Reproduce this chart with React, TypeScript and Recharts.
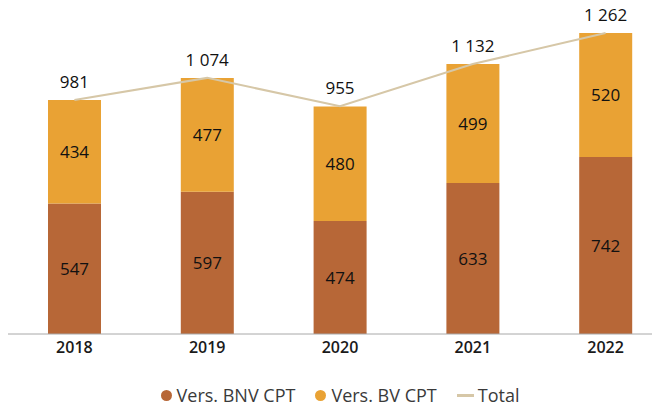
import React from 'react';
import { ComposedChart, Bar, Line, XAxis, YAxis, LabelList, Legend } from 'recharts';

const categories = ['2018', '2019', '2020', '2021', '2022'];
const bnvValues = [547, 597, 474, 633, 742];
const bvValues = [434, 477, 480, 499, 520];
const totalValues = [981, 1074, 955, 1132, 1262];
const seriesNames = ['Vers. BNV CPT', 'Vers. BV CPT', 'Total'];

const data = categories.map((year, i) => ({
  year,
  bnv: bnvValues[i],
  bv: bvValues[i],
  total: totalValues[i],
}));

const FONT = '"Open Sans", sans-serif';
const BROWN = '#b76737';
const ORANGE = '#e9a234';
const TAN = '#d6c7a7';

const fmt = (v: any) => String(v).replace(/\B(?=(\d{3})+(?!\d))/g, ' ');

const LegendContent = (props: any) => {
  const payload = [...(props.payload || [])].sort(
    (a: any, b: any) => seriesNames.indexOf(a.value) - seriesNames.indexOf(b.value)
  );
  return (
    <div
      style={{
        display: 'flex',
        justifyContent: 'center',
        alignItems: 'center',
        height: 22,
        lineHeight: '22px',
        fontFamily: FONT,
        fontSize: 18,
        color: '#3a3a3a',
      }}
    >
      {payload.map((p: any, i: number) => (
        <div key={i} style={{ display: 'flex', alignItems: 'center', marginLeft: i === 0 ? 0 : 20 }}>
          {p.type === 'line' ? (
            <span style={{ display: 'inline-block', width: 17, height: 3, background: p.color, marginRight: 4 }} />
          ) : (
            <span
              style={{
                display: 'inline-block',
                width: 11,
                height: 11,
                borderRadius: '50%',
                background: p.color,
                marginRight: 5,
              }}
            />
          )}
          <span style={{ whiteSpace: 'nowrap' }}>{p.value}</span>
        </div>
      ))}
    </div>
  );
};

export default function App() {
  return (
    <div style={{ width: 652, height: 395, overflow: 'hidden' }}>
      <ComposedChart
        width={664}
        height={398}
        data={data}
        margin={{ top: 16, right: 0, left: 0, bottom: 0 }}
        style={{ fontFamily: FONT }}
      >
        <XAxis
          dataKey="year"
          axisLine={{ stroke: '#a8a8a8', strokeWidth: 1 }}
          tickLine={false}
          height={50}
          tick={{ fontSize: 16, fontWeight: 600, fill: '#1a1a1a', fontFamily: FONT }}
        />
        <YAxis hide domain={[0, 1300]} />
        <Legend content={<LegendContent />} verticalAlign="bottom" itemSorter={null as any} />
        <Bar dataKey="bnv" name="Vers. BNV CPT" stackId="a" fill={BROWN} barSize={53} isAnimationActive={false} legendType="circle">
          <LabelList dataKey="bnv" position="center" fill="#111" fontSize={17} fontWeight={500} fontFamily={FONT} />
        </Bar>
        <Bar dataKey="bv" name="Vers. BV CPT" stackId="a" fill={ORANGE} barSize={53} isAnimationActive={false} legendType="circle">
          <LabelList dataKey="bv" position="center" fill="#111" fontSize={17} fontWeight={500} fontFamily={FONT} />
        </Bar>
        <Line
          dataKey="total"
          name="Total"
          type="linear"
          stroke={TAN}
          strokeWidth={2}
          dot={false}
          isAnimationActive={false}
          legendType="line"
        >
          <LabelList dataKey="total" position="top" offset={12} fill="#111" fontSize={17} fontWeight={500} fontFamily={FONT} formatter={fmt} />
        </Line>
      </ComposedChart>
    </div>
  );
}
